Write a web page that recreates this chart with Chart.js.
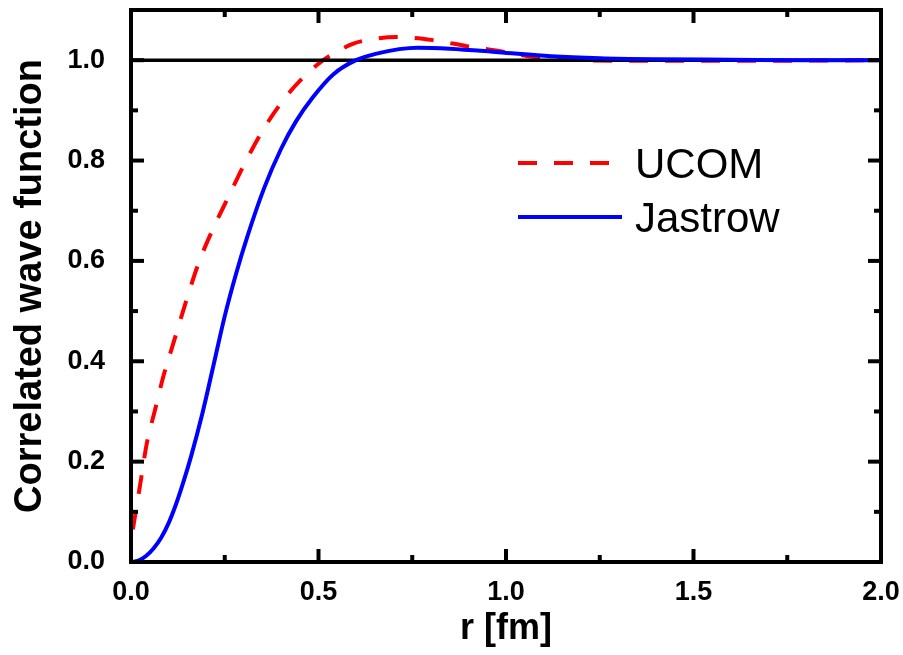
<!DOCTYPE html>
<html>
<head>
<meta charset="utf-8">
<title>Correlated wave function</title>
<script src="https://cdn.jsdelivr.net/npm/chart.js@4/dist/chart.umd.min.js"></script>
<style>
  html, body { margin: 0; padding: 0; background: #fff; }
  canvas { display: block; }
</style>
</head>
<body>
<canvas id="myChart" width="903" height="655"></canvas>
<script>
'use strict';

// r in fm, and the correlated wave function for each correlator
const jastrowR = [0, 0.02, 0.04, 0.06, 0.08, 0.1, 0.12, 0.14, 0.16, 0.19, 0.22, 0.25, 0.28, 0.31, 0.355, 0.4, 0.44, 0.485, 0.54, 0.6, 0.655, 0.715, 0.765, 0.85, 0.98, 1.12, 1.25, 1.4, 1.6, 1.8, 2.0];
const jastrowValues = [0, 0.003, 0.012, 0.027, 0.048, 0.077, 0.115, 0.16, 0.21, 0.295, 0.392, 0.49, 0.574, 0.648, 0.745, 0.823, 0.878, 0.926, 0.972, 1.0, 1.013, 1.022, 1.025, 1.023, 1.016, 1.008, 1.004, 1.002, 1.001, 1.0, 1.0];

const ucomR = [0.005, 0.025, 0.042, 0.064, 0.086, 0.113, 0.145, 0.18, 0.215, 0.26, 0.305, 0.357, 0.424, 0.495, 0.54, 0.593, 0.63, 0.708, 0.805, 0.895, 0.985, 1.07, 1.2, 1.35, 1.5, 1.7, 2.0];
const ucomValues = [0.065, 0.157, 0.236, 0.303, 0.369, 0.436, 0.515, 0.595, 0.658, 0.728, 0.797, 0.867, 0.937, 0.99, 1.013, 1.033, 1.04, 1.046, 1.04, 1.028, 1.018, 1.007, 1.0, 0.999, 0.999, 0.999, 1.0];

// uncorrelated reference
const refR = [0, 2];
const refValues = [1, 1];

const xMajorTicks = [0, 0.5, 1.0, 1.5, 2.0];
const xMinorTicks = [0.25, 0.75, 1.25, 1.75];
const yMajorTicks = [0, 0.2, 0.4, 0.6, 0.8, 1.0];
const yMinorTicks = [0.1, 0.3, 0.5, 0.7, 0.9];

const seriesLabels = ['UCOM', 'Jastrow'];

const FONT = '"Liberation Sans", Arial, sans-serif';

function toPoints(xs, ys) {
  const pts = [];
  for (let i = 0; i < xs.length; i++) {
    pts.push({ x: xs[i], y: ys[i] });
  }
  return pts;
}

// frame with inward ticks on all four sides
const framePlugin = {
  id: 'frame',
  afterDraw(chart) {
    const { ctx, chartArea: a, scales } = chart;
    const xs = scales.x;
    const ys = scales.y;
    ctx.save();
    ctx.strokeStyle = '#000';
    ctx.lineWidth = 4;
    ctx.lineCap = 'butt';

    function tick(x0, y0, x1, y1) {
      ctx.beginPath();
      ctx.moveTo(x0, y0);
      ctx.lineTo(x1, y1);
      ctx.stroke();
    }
    xMajorTicks.forEach(v => {
      const px = xs.getPixelForValue(v);
      tick(px, a.bottom, px, a.bottom - 13);
      tick(px, a.top, px, a.top + 13);
    });
    xMinorTicks.forEach(v => {
      const px = xs.getPixelForValue(v);
      tick(px, a.bottom, px, a.bottom - 7);
      tick(px, a.top, px, a.top + 7);
    });
    yMajorTicks.forEach(v => {
      const py = ys.getPixelForValue(v);
      tick(a.left, py, a.left + 13, py);
      tick(a.right, py, a.right - 13, py);
    });
    yMinorTicks.forEach(v => {
      const py = ys.getPixelForValue(v);
      tick(a.left, py, a.left + 7, py);
      tick(a.right, py, a.right - 7, py);
    });

    ctx.strokeRect(a.left, a.top, a.right - a.left, a.bottom - a.top);
    ctx.restore();
  }
};

// legend sitting inside the plot
const legendPlugin = {
  id: 'insideLegend',
  afterDraw(chart) {
    const ctx = chart.ctx;
    const rows = [
      { ds: chart.data.datasets[2], y: 163, base: 178 },
      { ds: chart.data.datasets[0], y: 217, base: 232 }
    ];
    ctx.save();
    rows.forEach(row => {
      ctx.beginPath();
      ctx.strokeStyle = row.ds.borderColor;
      ctx.lineWidth = row.ds.borderWidth;
      ctx.setLineDash(row.ds.borderDash || []);
      ctx.moveTo(518, row.y);
      ctx.lineTo(622, row.y);
      ctx.stroke();
      ctx.setLineDash([]);
      ctx.fillStyle = '#000';
      ctx.font = '42px ' + FONT;
      ctx.textBaseline = 'alphabetic';
      ctx.textAlign = 'left';
      ctx.fillText(row.ds.label, 635, row.base);
    });
    ctx.restore();
  }
};

const chartCanvas = document.getElementById('myChart');

new Chart(chartCanvas, {
  type: 'line',
  data: {
    datasets: [{
      label: seriesLabels[1],
      data: toPoints(jastrowR, jastrowValues),
      borderColor: '#0000ff',
      borderWidth: 4,
      pointRadius: 0,
      cubicInterpolationMode: 'monotone'
    }, {
      label: 'reference',
      data: toPoints(refR, refValues),
      borderColor: '#000000',
      borderWidth: 3.5,
      pointRadius: 0
    }, {
      label: seriesLabels[0],
      data: toPoints(ucomR, ucomValues),
      borderColor: '#ff0000',
      borderWidth: 4,
      borderDash: [19, 17],
      pointRadius: 0,
      cubicInterpolationMode: 'monotone'
    }]
  },
  options: {
    responsive: false,
    devicePixelRatio: 1,
    animation: false,
    layout: { padding: { top: 10, right: 22, left: 0, bottom: 0 } },
    plugins: {
      legend: { display: false },
      tooltip: { enabled: false }
    },
    scales: {
      x: {
        type: 'linear',
        min: 0,
        max: 2,
        grid: { display: false },
        border: { display: false },
        afterBuildTicks: s => { s.ticks = xMajorTicks.map(v => ({ value: v })); },
        ticks: {
          color: '#000',
          padding: 6,
          font: { family: FONT, size: 27, weight: 'bold' },
          callback: v => v.toFixed(1)
        },
        title: {
          display: true,
          text: 'r [fm]',
          color: '#000',
          font: { family: FONT, size: 36, weight: 'bold' },
          padding: { top: 0, bottom: 4 }
        },
        afterFit: s => {
          s.height = 93;
          s.paddingLeft = 0;
          s.paddingRight = 0;
        }
      },
      y: {
        min: 0,
        max: 1.1,
        grid: { display: false },
        border: { display: false },
        afterBuildTicks: s => { s.ticks = yMajorTicks.map(v => ({ value: v })); },
        ticks: {
          color: '#000',
          padding: 18,
          font: { family: FONT, size: 27, weight: 'bold' },
          callback: v => v.toFixed(1)
        },
        title: {
          display: true,
          text: 'Correlated wave function',
          color: '#000',
          font: { family: FONT, size: 38, weight: 'bold' },
          padding: { top: 8, bottom: 0 }
        },
        afterFit: s => {
          s.width = 131;
          s.paddingTop = 0;
          s.paddingBottom = 0;
        }
      }
    }
  },
  plugins: [framePlugin, legendPlugin]
});
</script>
</body>
</html>
